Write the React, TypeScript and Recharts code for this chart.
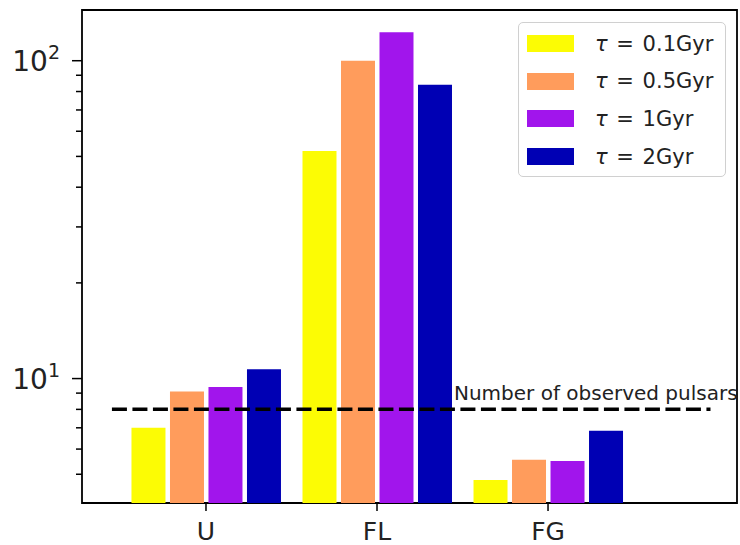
import React from "react"
import {
  Bar,
  BarChart,
  ReferenceArea,
  ReferenceDot,
  ReferenceLine,
  XAxis,
  YAxis,
} from "recharts"

const categories = ["U", "FL", "FG"]
const tau01 = [7.0, 52, 4.8]
const tau05 = [9.1, 100, 5.55]
const tau1 = [9.4, 123, 5.5]
const tau2 = [10.7, 84, 6.85]
const observedPulsars = 8
const observedLabel = "Number of observed pulsars"

const xDomain: [number, number] = [-0.725, 3.105]
const yDomain: [number, number] = [4.06, 144.4]
const yTicks = [5, 6, 7, 8, 9, 10, 20, 30, 40, 50, 60, 70, 80, 90, 100]
const yExponents: Record<number, string> = { 10: "1", 100: "2" }

const series = [
  { key: "t01", label: "0.1Gyr", values: tau01, color: "#fcfc04" },
  { key: "t05", label: "0.5Gyr", values: tau05, color: "#ff9c5c" },
  { key: "t1", label: "1Gyr", values: tau1, color: "#a115ec" },
  { key: "t2", label: "2Gyr", values: tau2, color: "#0000b4" },
]

const data = categories.map((name, i) => {
  const row: Record<string, number | string> = { x: i, name }
  series.forEach((s) => {
    row[s.key] = s.values[i]
  })
  return row
})

const FONT = "'DejaVu Sans', sans-serif"

const YTick = (props: any) => {
  const { x, y, payload } = props
  const exp = yExponents[payload.value]
  const len = exp ? 10 : 6
  return (
    <g>
      <line x1={x - len} x2={x} y1={y} y2={y} stroke="#000" strokeWidth={1.5} />
      {exp && (
        <text x={x - 22} y={y + 10} textAnchor="end" fontSize={28} fill="#222" fontFamily={FONT}>
          <tspan>10</tspan>
          <tspan dy={-12} fontSize={19}>
            {exp}
          </tspan>
        </text>
      )}
    </g>
  )
}

const XTick = (props: any) => {
  const { x, y, payload } = props
  return (
    <g>
      <line x1={x} x2={x} y1={y} y2={y + 8} stroke="#000" strokeWidth={1.5} />
      <text x={x} y={y + 37} textAnchor="middle" fontSize={25} fill="#222" fontFamily={FONT}>
        {categories[payload.value] ?? ""}
      </text>
    </g>
  )
}

const Legend = () => (
  <div
    style={{
      position: "absolute",
      left: 518,
      top: 22,
      width: 208,
      height: 155,
      border: "1px solid #d0d0d0",
      borderRadius: 5,
      background: "rgba(255,255,255,0.8)",
      fontFamily: FONT,
      fontSize: 21,
      color: "#222",
      boxSizing: "border-box",
    }}
  >
    {series.map((s, i) => (
      <div
        key={s.key}
        style={{ position: "absolute", left: 8, top: 12 + i * 37.7, height: 17, display: "flex", alignItems: "center" }}
      >
        <div style={{ width: 47, height: 17, background: s.color }} />
        <span style={{ marginLeft: 21, whiteSpace: "nowrap", wordSpacing: 2 }}>
          <i>τ</i> = {s.label}
        </span>
      </div>
    ))}
  </div>
)

export default function App() {
  return (
    <div style={{ position: "absolute", left: 0, top: 0, width: 740, height: 545, background: "#fff" }}>
      <BarChart
        width={740}
        height={545}
        data={data}
        margin={{ top: 10, right: 3, bottom: 0, left: 0 }}
        barSize={34}
        barGap={4.5}
      >
        <XAxis
          dataKey="x"
          type="number"
          domain={xDomain}
          allowDataOverflow
          ticks={[0, 1, 2]}
          height={42}
          tickSize={0}
          tickMargin={0}
          axisLine={false}
          tickLine={false}
          tick={<XTick />}
        />
        <YAxis
          scale="log"
          type="number"
          domain={yDomain}
          allowDataOverflow
          ticks={yTicks}
          interval={0}
          width={82}
          tickSize={0}
          tickMargin={0}
          axisLine={false}
          tickLine={false}
          tick={<YTick />}
        />
        {series.map((s) => (
          <Bar key={s.key} dataKey={s.key} fill={s.color} isAnimationActive={false} />
        ))}
        <ReferenceLine
          segment={[
            { x: -0.55, y: observedPulsars },
            { x: 2.95, y: observedPulsars },
          ]}
          stroke="#000"
          strokeWidth={3.5}
          strokeDasharray="15 5.5"
        />
        <ReferenceDot
          x={1.45}
          y={8.55}
          r={0}
          fill="none"
          stroke="none"
          label={(p: any) => (
            <text x={p.viewBox.x} y={p.viewBox.y} fontSize={20} fill="#222" fontFamily={FONT}>
              {observedLabel}
            </text>
          )}
        />
        <ReferenceArea
          x1={xDomain[0]}
          x2={xDomain[1]}
          y1={yDomain[0]}
          y2={yDomain[1]}
          fill="none"
          fillOpacity={0}
          stroke="#000"
          strokeWidth={1.8}
          strokeOpacity={1}
        />
      </BarChart>
      <Legend />
    </div>
  )
}
